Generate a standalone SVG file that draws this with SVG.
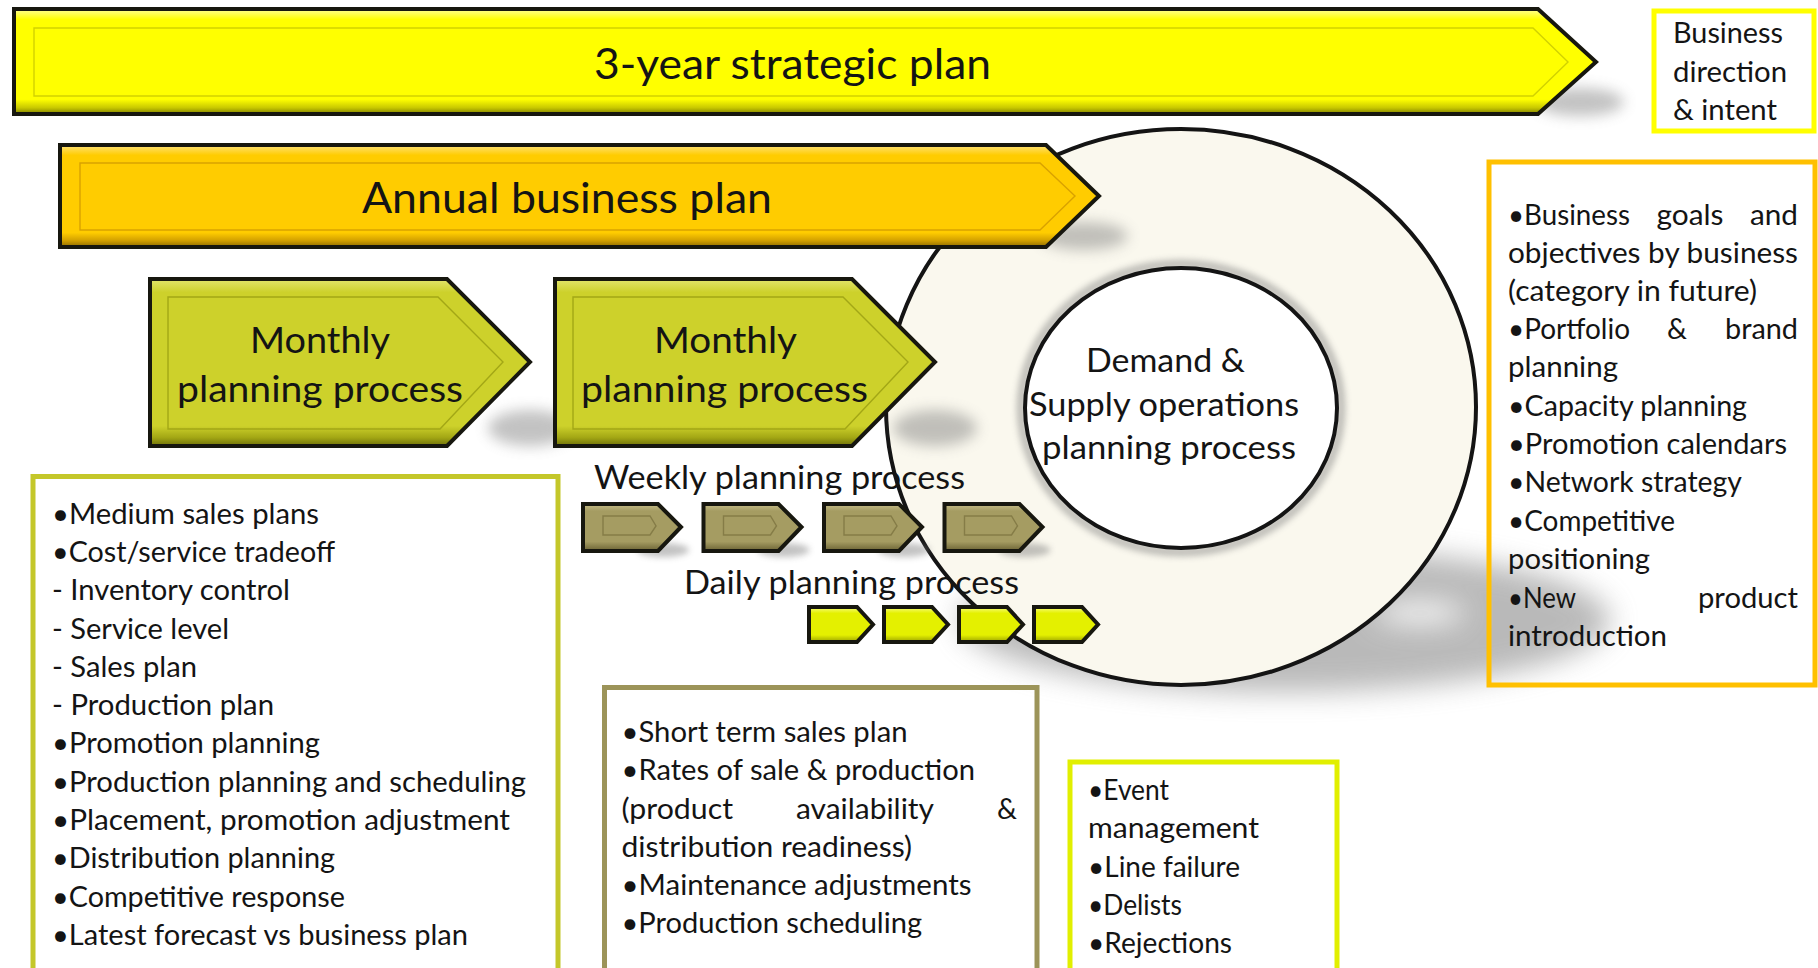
<svg xmlns="http://www.w3.org/2000/svg" width="1818" height="968" viewBox="0 0 1818 968">
<defs>
<style>
text { font-family: Lato, "Open Sans", "DejaVu Sans", sans-serif; fill: #141414; }
.big { font-size: 43px; }
.mon { font-size: 37px; }
.ring { font-size: 33px; }
.wk { font-size: 33px; }
.body { font-size: 28px; }
.outline { stroke: #17170f; stroke-width: 4; stroke-linejoin: miter; }
.inset { fill: none; stroke-width: 1.4; }
.box { fill: none; stroke-width: 5; }
.shadow { fill: #7a7a7a; opacity: 0.45; }
</style>
<linearGradient id="g-yel" x1="0" y1="0" x2="0" y2="1">
<stop offset="0" stop-color="#FFFF99"/><stop offset="0.1" stop-color="#FFFF00"/><stop offset="0.86" stop-color="#FFFF00"/><stop offset="0.94" stop-color="#C9C900"/><stop offset="1" stop-color="#7E7E00"/>
</linearGradient>
<linearGradient id="g-gold" x1="0" y1="0" x2="0" y2="1">
<stop offset="0" stop-color="#FFE27A"/><stop offset="0.1" stop-color="#FFCC00"/><stop offset="0.86" stop-color="#FFCC00"/><stop offset="0.94" stop-color="#D09E00"/><stop offset="1" stop-color="#8C6A00"/>
</linearGradient>
<linearGradient id="g-mon" x1="0" y1="0" x2="0" y2="1">
<stop offset="0" stop-color="#E2E56E"/><stop offset="0.08" stop-color="#CDD12B"/><stop offset="0.88" stop-color="#CDD12B"/><stop offset="0.95" stop-color="#A2A614"/><stop offset="1" stop-color="#6E700A"/>
</linearGradient>
<linearGradient id="g-wk" x1="0" y1="0" x2="0" y2="1">
<stop offset="0" stop-color="#C6BE8A"/><stop offset="0.15" stop-color="#A59C62"/><stop offset="0.8" stop-color="#A59C62"/><stop offset="1" stop-color="#6A6234"/>
</linearGradient>
<linearGradient id="g-day" x1="0" y1="0" x2="0" y2="1">
<stop offset="0" stop-color="#F8FF80"/><stop offset="0.18" stop-color="#E4F000"/><stop offset="0.8" stop-color="#E4F000"/><stop offset="1" stop-color="#9AA200"/>
</linearGradient>
<filter id="blur6" x="-50%" y="-50%" width="200%" height="200%"><feGaussianBlur stdDeviation="7"/></filter>
<filter id="blur3" x="-50%" y="-50%" width="200%" height="200%"><feGaussianBlur stdDeviation="3"/></filter>
<filter id="blur14" x="-50%" y="-50%" width="200%" height="200%"><feGaussianBlur stdDeviation="14"/></filter>
</defs>
<rect width="1818" height="968" fill="#FFFFFF"/>

<g id="sop-ring">
<path d="M960,620 a325,72 0 1,0 650,0 a325,72 0 1,0 -650,0 Z M1375,613 a45,10 0 1,0 90,0 a45,10 0 1,0 -90,0 Z" fill="#8c8c8c" fill-rule="evenodd" opacity="0.6" filter="url(#blur14)"/>
<ellipse cx="1181" cy="407" rx="295" ry="278" fill="#FAF8EE" stroke="#141414" stroke-width="4"/>
<ellipse cx="1181" cy="408" rx="160" ry="144" fill="none" stroke="#777" stroke-width="9" opacity="0.45" filter="url(#blur3)"/>
<ellipse cx="1181" cy="408" rx="156" ry="140" fill="#FFFFFF" stroke="#141414" stroke-width="4"/>
<text class="ring" x="1086" y="372" textLength="159" lengthAdjust="spacingAndGlyphs">Demand &amp;</text>
<text class="ring" x="1029" y="416" textLength="270" lengthAdjust="spacingAndGlyphs">Supply operations</text>
<text class="ring" x="1042" y="459" textLength="254" lengthAdjust="spacingAndGlyphs">planning process</text>
</g>

<g id="strategic-plan">
<ellipse class="shadow" cx="1580" cy="102" rx="44" ry="14" filter="url(#blur6)"/>
<polygon class="outline" points="14,9 1538,9 1596,62 1538,114 14,114" fill="url(#g-yel)"/>
<polygon class="inset" stroke="#D2D200" points="34,28 1533,28 1568,62 1533,96 34,96"/>
<text class="big" x="594" y="79" textLength="397" lengthAdjust="spacingAndGlyphs">3-year strategic plan</text>
</g>

<g id="annual-plan">
<ellipse class="shadow" cx="1084" cy="236" rx="44" ry="14" filter="url(#blur6)"/>
<polygon class="outline" points="60,145 1046,145 1099,196 1046,247 60,247" fill="url(#g-gold)"/>
<polygon class="inset" stroke="#D9A200" points="80,163 1040,163 1075,196 1040,230 80,230"/>
<text class="big" x="362" y="213" textLength="410" lengthAdjust="spacingAndGlyphs">Annual business plan</text>
</g>

<g id="monthly-1">
<ellipse class="shadow" cx="530" cy="428" rx="42" ry="18" filter="url(#blur6)"/>
<polygon class="outline" points="150,279 447,279 530,362 447,446 150,446" fill="url(#g-mon)"/>
<polygon class="inset" stroke="#A3A716" points="168,297 438,297 503,362 440,429 168,429"/>
<text class="mon" x="250" y="353" textLength="140" lengthAdjust="spacingAndGlyphs">Monthly</text>
<text class="mon" x="177" y="402" textLength="286" lengthAdjust="spacingAndGlyphs">planning process</text>
</g>

<g id="monthly-2">
<ellipse class="shadow" cx="935" cy="428" rx="42" ry="18" filter="url(#blur6)"/>
<polygon class="outline" points="555,279 852,279 935,362 852,446 555,446" fill="url(#g-mon)"/>
<polygon class="inset" stroke="#A3A716" points="573,297 843,297 908,362 845,429 573,429"/>
<text class="mon" x="654" y="353" textLength="143" lengthAdjust="spacingAndGlyphs">Monthly</text>
<text class="mon" x="581" y="402" textLength="287" lengthAdjust="spacingAndGlyphs">planning process</text>
</g>

<g id="weekly-label"><text class="wk" x="594" y="489" textLength="371" lengthAdjust="spacingAndGlyphs">Weekly planning process</text></g>

<g id="weekly-1" transform="translate(583,0)">
<ellipse class="shadow" cx="80" cy="550" rx="26" ry="7" filter="url(#blur3)"/>
<polygon class="outline" stroke-width="3.5" points="0,504 75,504 98,527 75,551 0,551" fill="url(#g-wk)"/>
<polygon class="inset" stroke="#857C47" points="20,516 67,516 73,526 67,535 20,535"/>
</g>
<g id="weekly-2" transform="translate(703.5,0)">
<ellipse class="shadow" cx="80" cy="550" rx="26" ry="7" filter="url(#blur3)"/>
<polygon class="outline" stroke-width="3.5" points="0,504 75,504 98,527 75,551 0,551" fill="url(#g-wk)"/>
<polygon class="inset" stroke="#857C47" points="20,516 67,516 73,526 67,535 20,535"/>
</g>
<g id="weekly-3" transform="translate(824,0)">
<ellipse class="shadow" cx="80" cy="550" rx="26" ry="7" filter="url(#blur3)"/>
<polygon class="outline" stroke-width="3.5" points="0,504 75,504 98,527 75,551 0,551" fill="url(#g-wk)"/>
<polygon class="inset" stroke="#857C47" points="20,516 67,516 73,526 67,535 20,535"/>
</g>
<g id="weekly-4" transform="translate(944.5,0)">
<ellipse class="shadow" cx="80" cy="550" rx="26" ry="7" filter="url(#blur3)"/>
<polygon class="outline" stroke-width="3.5" points="0,504 75,504 98,527 75,551 0,551" fill="url(#g-wk)"/>
<polygon class="inset" stroke="#857C47" points="20,516 67,516 73,526 67,535 20,535"/>
</g>

<g id="daily-label"><text class="wk" x="684" y="594" textLength="335" lengthAdjust="spacingAndGlyphs">Daily planning process</text></g>

<g id="daily-1" transform="translate(809,0)">
<polygon class="outline" stroke-width="3.5" points="0,607 48,607 64,624.5 48,642 0,642" fill="url(#g-day)"/>
</g>
<g id="daily-2" transform="translate(884,0)">
<polygon class="outline" stroke-width="3.5" points="0,607 48,607 64,624.5 48,642 0,642" fill="url(#g-day)"/>
</g>
<g id="daily-3" transform="translate(959,0)">
<polygon class="outline" stroke-width="3.5" points="0,607 48,607 64,624.5 48,642 0,642" fill="url(#g-day)"/>
</g>
<g id="daily-4" transform="translate(1034,0)">
<polygon class="outline" stroke-width="3.5" points="0,607 48,607 64,624.5 48,642 0,642" fill="url(#g-day)"/>
</g>

<g id="business-direction">
<rect class="box" x="1654" y="11" width="160" height="120" stroke="#FFFF00"/>
<text class="body" x="1673" y="43" textLength="110" lengthAdjust="spacingAndGlyphs">Business</text>
<text class="body" x="1673" y="82" textLength="114" lengthAdjust="spacingAndGlyphs">direction</text>
<text class="body" x="1673" y="120" textLength="104" lengthAdjust="spacingAndGlyphs">&amp; intent</text>
</g>

<g id="strategic-notes">
<rect class="box" x="1489" y="162" width="326" height="523" stroke="#FFC000"/>
<text class="body" x="1508" y="225" textLength="122" lengthAdjust="spacingAndGlyphs">•Business</text>
<text class="body" x="1690" y="225" text-anchor="middle" textLength="67" lengthAdjust="spacingAndGlyphs">goals</text>
<text class="body" x="1798" y="225" text-anchor="end" textLength="48" lengthAdjust="spacingAndGlyphs">and</text>
<text class="body" x="1508" y="263" textLength="290" lengthAdjust="spacingAndGlyphs">objectives by business</text>
<text class="body" x="1508" y="301" textLength="249" lengthAdjust="spacingAndGlyphs">(category in future)</text>
<text class="body" x="1508" y="339" textLength="122" lengthAdjust="spacingAndGlyphs">•Portfolio</text>
<text class="body" x="1677" y="339" text-anchor="middle">&amp;</text>
<text class="body" x="1798" y="339" text-anchor="end" textLength="73" lengthAdjust="spacingAndGlyphs">brand</text>
<text class="body" x="1508" y="377" textLength="110" lengthAdjust="spacingAndGlyphs">planning</text>
<text class="body" x="1508" y="416" textLength="239" lengthAdjust="spacingAndGlyphs">•Capacity planning</text>
<text class="body" x="1508" y="454" textLength="279" lengthAdjust="spacingAndGlyphs">•Promotion calendars</text>
<text class="body" x="1508" y="492" textLength="234" lengthAdjust="spacingAndGlyphs">•Network strategy</text>
<text class="body" x="1508" y="531" textLength="167" lengthAdjust="spacingAndGlyphs">•Competitive</text>
<text class="body" x="1508" y="569" textLength="142" lengthAdjust="spacingAndGlyphs">positioning</text>
<text class="body" x="1508" y="608" textLength="68" lengthAdjust="spacingAndGlyphs">•New</text>
<text class="body" x="1798" y="608" text-anchor="end" textLength="100" lengthAdjust="spacingAndGlyphs">product</text>
<text class="body" x="1508" y="646" textLength="159" lengthAdjust="spacingAndGlyphs">introduction</text>
</g>

<g id="monthly-notes">
<rect class="box" x="33" y="476.5" width="525" height="520" stroke="#C4C72A"/>
<text class="body" x="52" y="524" textLength="267" lengthAdjust="spacingAndGlyphs">•Medium sales plans</text>
<text class="body" x="52" y="562" textLength="283" lengthAdjust="spacingAndGlyphs">•Cost/service tradeoff</text>
<text class="body" x="52" y="600" textLength="238" lengthAdjust="spacingAndGlyphs">- Inventory control</text>
<text class="body" x="52" y="638.5" textLength="177" lengthAdjust="spacingAndGlyphs">- Service level</text>
<text class="body" x="52" y="677" textLength="145" lengthAdjust="spacingAndGlyphs">- Sales plan</text>
<text class="body" x="52" y="715" textLength="222" lengthAdjust="spacingAndGlyphs">- Production plan</text>
<text class="body" x="52" y="753" textLength="268" lengthAdjust="spacingAndGlyphs">•Promotion planning</text>
<text class="body" x="52" y="792" textLength="474" lengthAdjust="spacingAndGlyphs">•Production planning and scheduling</text>
<text class="body" x="52" y="830" textLength="458" lengthAdjust="spacingAndGlyphs">•Placement, promotion adjustment</text>
<text class="body" x="52" y="868" textLength="283" lengthAdjust="spacingAndGlyphs">•Distribution planning</text>
<text class="body" x="52" y="907" textLength="293" lengthAdjust="spacingAndGlyphs">•Competitive response</text>
<text class="body" x="52" y="945" textLength="416" lengthAdjust="spacingAndGlyphs">•Latest forecast vs business plan</text>
</g>

<g id="weekly-notes">
<rect class="box" x="604.5" y="687.5" width="432.5" height="300" stroke="#9C9459"/>
<text class="body" x="621.5" y="742" textLength="286" lengthAdjust="spacingAndGlyphs">•Short term sales plan</text>
<text class="body" x="621.5" y="780" textLength="353.5" lengthAdjust="spacingAndGlyphs">•Rates of sale &amp; production</text>
<text class="body" x="621.5" y="818.5" textLength="111.5" lengthAdjust="spacingAndGlyphs">(product</text>
<text class="body" x="865" y="818.5" text-anchor="middle" textLength="138" lengthAdjust="spacingAndGlyphs">availability</text>
<text class="body" x="1017" y="818.5" text-anchor="end">&amp;</text>
<text class="body" x="621.5" y="857" textLength="290.5" lengthAdjust="spacingAndGlyphs">distribution readiness)</text>
<text class="body" x="621.5" y="895" textLength="350" lengthAdjust="spacingAndGlyphs">•Maintenance adjustments</text>
<text class="body" x="621.5" y="933" textLength="300.5" lengthAdjust="spacingAndGlyphs">•Production scheduling</text>
</g>

<g id="daily-notes">
<rect class="box" x="1070" y="762" width="267" height="230" stroke="#E1EF00"/>
<text class="body" x="1088" y="800" textLength="81" lengthAdjust="spacingAndGlyphs">•Event</text>
<text class="body" x="1088" y="838" textLength="171" lengthAdjust="spacingAndGlyphs">management</text>
<text class="body" x="1088" y="877" textLength="152" lengthAdjust="spacingAndGlyphs">•Line failure</text>
<text class="body" x="1088" y="915" textLength="94" lengthAdjust="spacingAndGlyphs">•Delists</text>
<text class="body" x="1088" y="953" textLength="144" lengthAdjust="spacingAndGlyphs">•Rejections</text>
</g>

<g id="connectors"></g>
</svg>
